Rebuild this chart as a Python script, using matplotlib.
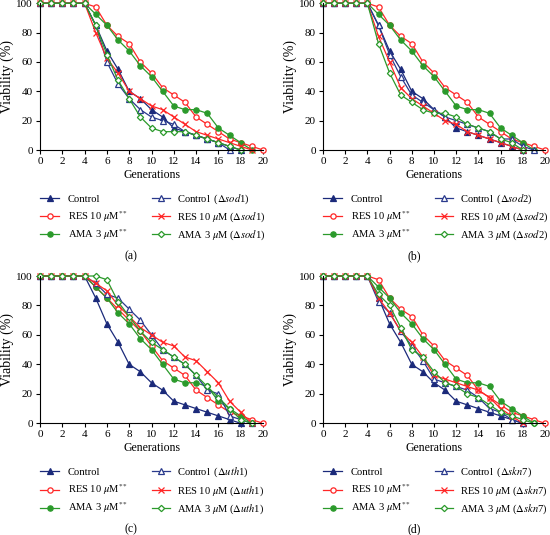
import matplotlib
matplotlib.use("Agg")
import matplotlib.pyplot as plt
from matplotlib.lines import Line2D

plt.rcParams['font.family'] = ['Liberation Serif', 'DejaVu Serif']
plt.rcParams['mathtext.fontset'] = 'stix'

generations = list(range(21))
x_ticks = list(range(0, 21, 2))
y_ticks = list(range(0, 101, 20))

# shared series
control = [100, 100, 100, 100, 100, 85, 67.5, 55, 40, 35, 27.5, 22.5, 15, 12.5, 10, 7.5, 5, 2.5, 0]
res = [100, 100, 100, 100, 100, 97.5, 85, 77.5, 72.5, 60, 52.5, 42.5, 37.5, 32.5, 22.5, 17.5, 12.5, 7.5, 5, 2.5, 0]
ama = [100, 100, 100, 100, 100, 92.5, 85, 75, 67.5, 57.5, 50, 40, 30, 27.5, 27.5, 25, 15, 10, 5, 0]
res_c = [100, 100, 100, 100, 100, 92.5, 85, 77.5, 70, 62.5, 52.5, 42.5, 37.5, 32.5, 22.5, 17.5, 12.5, 7.5, 5, 2.5, 0]

# panel (a) sod1
ctrl_sod1 = [100, 100, 100, 100, 100, 85, 60, 45, 35, 27.5, 22.5, 20, 17.5, 12.5, 10, 7.5, 5, 0]
res_sod1 = [100, 100, 100, 100, 100, 80, 62.5, 52.5, 40, 35, 30, 27.5, 22.5, 17.5, 12.5, 10, 7.5, 5, 2.5, 0]
ama_sod1 = [100, 100, 100, 100, 100, 85, 65, 47.5, 35, 22.5, 15, 12.5, 12.5, 12.5, 10, 7.5, 5, 2.5, 0]

# panel (b) sod2
ctrl_sod2 = [100, 100, 100, 100, 100, 85, 65, 50, 37.5, 32.5, 27.5, 22.5, 20, 17.5, 15, 12.5, 7.5, 7.5, 2.5, 0]
res_sod2 = [100, 100, 100, 100, 100, 77.5, 60, 42.5, 35, 30, 25, 20, 17.5, 12.5, 10, 7.5, 5, 2.5, 0]
ama_sod2 = [100, 100, 100, 100, 100, 72.5, 52.5, 37.5, 32.5, 27.5, 25, 25, 22.5, 17.5, 15, 12.5, 7.5, 5, 0]

# panel (c) uth1
ctrl_uth1 = [100, 100, 100, 100, 100, 95, 87.5, 85, 77.5, 70, 60, 50, 45, 40, 32.5, 22.5, 20, 5, 2.5, 0]
res_uth1 = [100, 100, 100, 100, 100, 95, 90, 80, 72.5, 65, 60, 55, 52.5, 45, 42.5, 35, 27.5, 15, 7.5, 0]
ama_uth1 = [100, 100, 100, 100, 100, 100, 97.5, 82.5, 72.5, 62.5, 55, 50, 45, 40, 32.5, 25, 17.5, 10, 2.5, 0]

# panel (d) skn7
ctrl_skn7 = [100, 100, 100, 100, 100, 82.5, 75, 62.5, 52.5, 42.5, 30, 27.5, 25, 22.5, 17.5, 10, 7.5, 2.5, 0]
res_skn7 = [100, 100, 100, 100, 100, 85, 75, 62.5, 55, 45, 32.5, 30, 27.5, 25, 22.5, 17.5, 10, 5, 0]
ama_skn7 = [100, 100, 100, 100, 100, 87.5, 80, 65, 50, 45, 35, 27.5, 25, 20, 17.5, 12.5, 7.5, 5, 2.5, 0]

panels = [
    ("(a)", "sod", "1", control, res, ama, ctrl_sod1, res_sod1, ama_sod1),
    ("(b)", "sod", "2", control, res, ama, ctrl_sod2, res_sod2, ama_sod2),
    ("(c)", "uth", "1", control, res_c, ama, ctrl_uth1, res_uth1, ama_uth1),
    ("(d)", "skn", "7", control, res, ama, ctrl_skn7, res_skn7, ama_skn7),
]

NAVY = "#1b2a7a"
BLUE2 = "#2a3a8c"
RED = "#ff2626"
GREEN = "#2b9a2b"

W, H = 550, 535
fig = plt.figure(figsize=(W / 100, H / 100), dpi=100)

boxes = [
    (40, 263, 3.3, 150),
    (323, 545, 3.3, 150),
    (40, 263, 276, 423.3),
    (323, 545, 276, 423.3),
]

# legend layout (pixels relative to the axes' lower-left corner)
row_dy = [48, 66.5, 84.5]
col_line = [(0, 19), (112, 130)]
col_text = [28, 137]

for (label, gene, num, c, r, a, cd, rd, ad), (x0, x1, yt, yb) in zip(panels, boxes):
    aw, ah = x1 - x0, yb - yt
    ax = fig.add_axes([x0 / W, 1 - yb / H, aw / W, ah / H])
    dname = r"($\mathit{\Delta " + gene + r"}$" + num + ")"
    series = [
        (c, NAVY, "^", NAVY, "Control"),
        (r, RED, "o", "white", r"RES 10 $\mu$M$^{**}$"),
        (a, GREEN, "o", GREEN, r"AMA 3 $\mu$M$^{**}$"),
        (cd, BLUE2, "^", "white", "Control\u2009 " + dname),
        (rd, RED, "x", RED, r"RES 10 $\mu$M " + dname),
        (ad, GREEN, "D", "white", r"AMA 3 $\mu$M " + dname),
    ]
    for i, (vals, col, mk, fc, name) in enumerate(series):
        ms = 3.8 if mk != "D" else 3.2
        if mk == "x":
            ms = 4.2
        style = dict(color=col, lw=0.9, markerfacecolor=fc, markeredgecolor=col,
                     markeredgewidth=0.9, markersize=ms, clip_on=False)
        ax.plot(generations[:len(vals)], vals, marker=mk, label=name, **style)
        # legend entry
        ci, ri = i // 3, i % 3
        yy = -row_dy[ri] / ah
        la, lb = col_line[ci]
        ax.add_line(Line2D([la / aw, lb / aw], [yy, yy], transform=ax.transAxes, **style))
        ax.add_line(Line2D([(la + lb) / 2 / aw], [yy], marker=mk, transform=ax.transAxes,
                           linestyle='none', **{k: v for k, v in style.items() if k != 'lw'}))
        ax.text(col_text[ci] / aw, -(row_dy[ri] + 3.6) / ah, name, transform=ax.transAxes,
                ha='left', va='baseline', fontsize=7.6)
    ax.set_xlim(0, 20)
    ax.set_ylim(0, 100)
    ax.set_xticks(x_ticks)
    ax.set_yticks(y_ticks)
    ax.spines['top'].set_visible(False)
    ax.spines['right'].set_visible(False)
    for s in ('left', 'bottom'):
        ax.spines[s].set_linewidth(0.8)
    ax.tick_params(direction='out', length=3, width=0.8, labelsize=8, pad=2)
    ax.set_xlabel("Generations", fontsize=8.5, labelpad=2)
    ax.set_ylabel("Viability (%)", fontsize=10)
    ax.yaxis.set_label_coords(-26 / aw, 0.5)
    ax.text(0.5 - 0.09, -106 / ah, label,
            transform=ax.transAxes, ha='center', va='center', fontsize=8.5)

fig.savefig("out.png", dpi=100)
